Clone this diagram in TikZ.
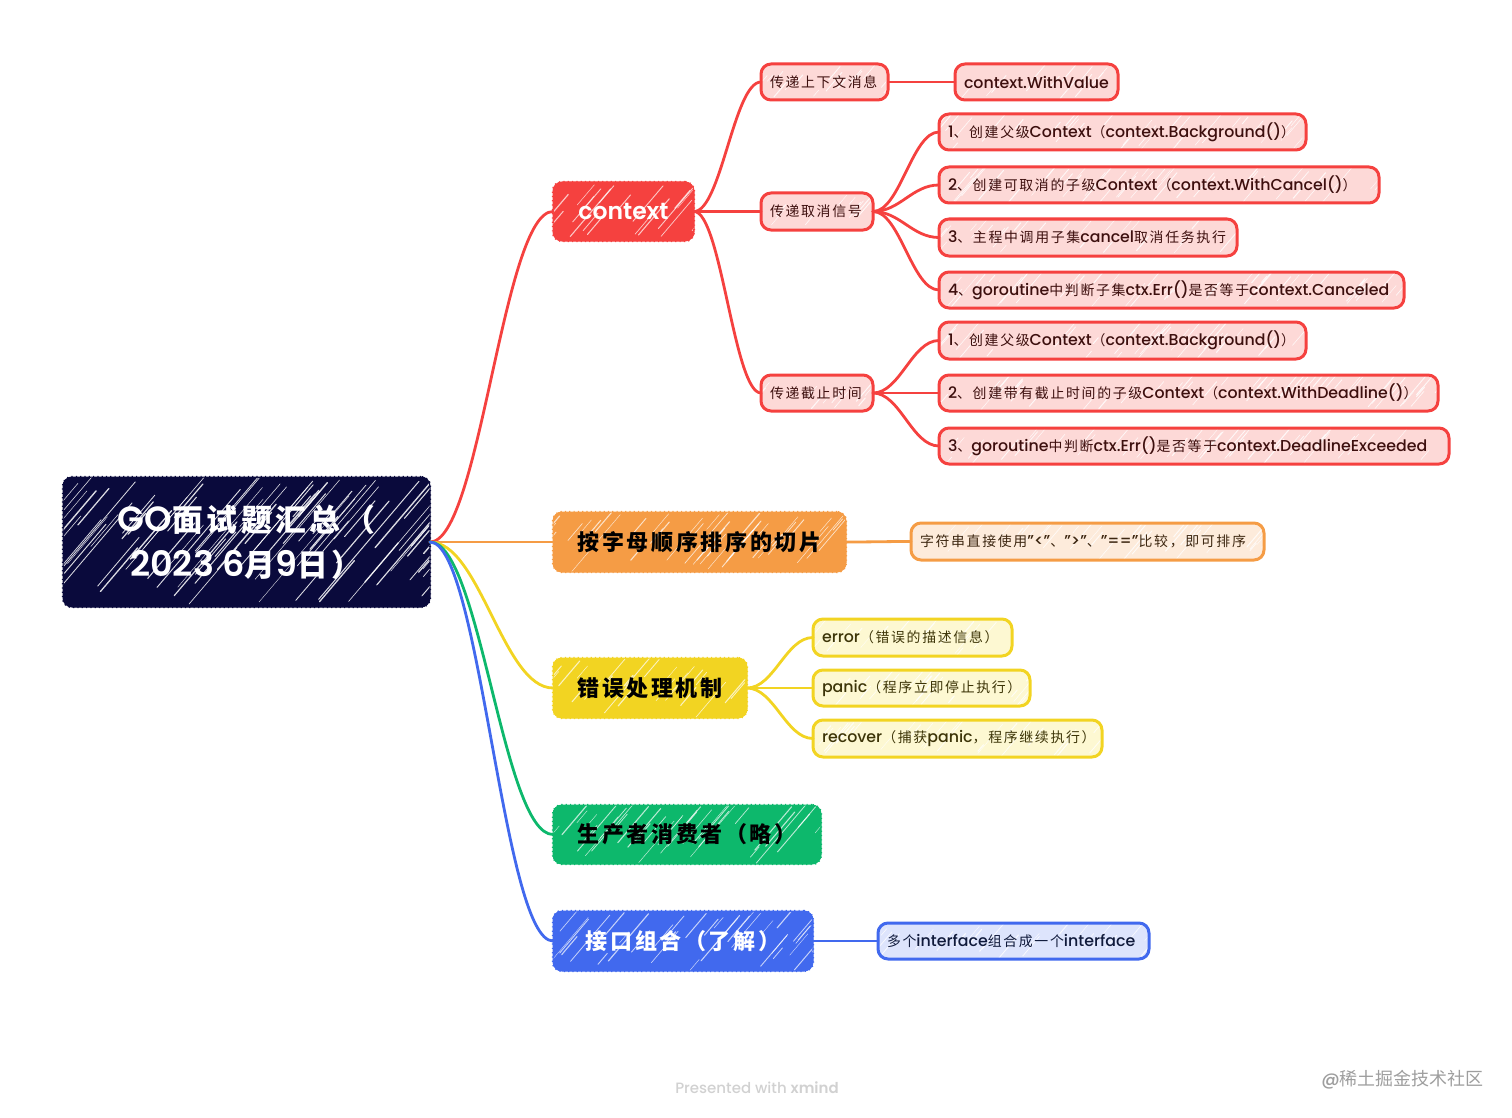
\documentclass[tikz,border=0pt]{standalone}
\usepackage{fontspec}
\setmainfont{Poppins Medium}[BoldFont=Poppins SemiBold]
\newfontfamily\cjk[LetterSpace=12,Scale=0.88]{Noto Sans CJK SC}
\newfontfamily\cjkplain{Noto Sans CJK SC}
\newcommand\C[1]{{\cjk #1}}
\definecolor{rootc}{HTML}{0A0A3C}
\definecolor{redc}{HTML}{F5413F}
\definecolor{orangec}{HTML}{F59C45}
\definecolor{yellowc}{HTML}{F2D422}
\definecolor{greenc}{HTML}{0DB86C}
\definecolor{bluec}{HTML}{4169EE}
\definecolor{redl}{HTML}{FDD9D7}
\definecolor{orangel}{HTML}{FDEBDB}
\definecolor{yellowl}{HTML}{FDF8D2}
\definecolor{bluel}{HTML}{DDE4FC}
\definecolor{redt}{HTML}{3D0F0E}
\definecolor{oranget}{HTML}{3D2711}
\definecolor{yellowt}{HTML}{3D3508}
\definecolor{bluet}{HTML}{101A3B}
\newcommand\hatchlines[3]{%
  \pgfmathsetmacro\hn{int((\bxw+\bxh)/#1)}%
  \foreach \i in {1,...,\hn}{%
    \pgfmathsetmacro\ht{rnd*(\bxw+\bxh*0.85)-\bxh*0.85}%
    \pgfmathsetmacro\ha{rnd*0.7}%
    \pgfmathsetmacro\hb{\ha+0.15+rnd*(1-\ha-0.15)}%
    \pgfmathsetmacro\hw{0.4+rnd*#3}%
    \draw[white,fill=none,line width=\hw pt,opacity=#2,line cap=round]
      ([shift={(\ht+\ha*\bxh*0.85,-\ha*\bxh)}]path picture bounding box.south west)
      -- ++({(\hb-\ha)*\bxh*0.85},{-(\hb-\ha)*\bxh});%
  }%
}
\tikzset{
  x=1pt,y=-1pt,
  sk/.style={inner sep=0pt,outer sep=0pt,rounded corners=#1},
  roughedge/.style={postaction={draw=#1,line width=2.4pt,dash pattern=on 1.2pt off 3.1pt}},
  rootbox/.style={sk=9pt,fill=rootc,draw=rootc,line width=1pt,text=white,align=center,roughedge=rootc,
    font=\fontsize{35}{45}\selectfont\bfseries,path picture={\hatchlines{5.5}{0.85}{1.0}}},
  mainbox/.style={sk=9pt,fill=#1,draw=#1,line width=1pt,roughedge=#1,
    font=\fontsize{25}{28}\selectfont\bfseries,path picture={\hatchlines{8}{0.7}{0.8}}},
  subbox/.style n args={3}{sk=10pt,fill=#2,draw=#1,line width=3pt,text=#3,
    font=\fontsize{15.8}{18}\selectfont,path picture={\hatchlines{11}{0.8}{0.7}}},
  redsub/.style={subbox={redc}{redl}{redt}},
  orangesub/.style={subbox={orangec}{orangel}{oranget}},
  yellowsub/.style={subbox={yellowc}{yellowl}{yellowt}},
  bluesub/.style={subbox={bluec}{bluel}{bluet}},
  link/.style={line width=2.8pt,draw=#1,line cap=round},
  footnote/.style={inner sep=0pt,font=\fontsize{15}{18}\selectfont,text=#1}
}
\newcommand\sketchbox[7]{%
  \pgfmathsetmacro\bxw{#4-#2}\pgfmathsetmacro\bxh{#5-#3}%
  \pgfmathsetmacro\bxx{(#2+#4)/2}\pgfmathsetmacro\bxy{(#3+#5)/2}%
  \pgfmathsetmacro\bxt{\bxw-20}%
  \node[#6,minimum width=\bxw pt-2pt,minimum height=\bxh pt-2pt] (#1) at (\bxx,\bxy) {#7};%
}
\newcommand\subnode[7]{\sketchbox{#1}{#2}{#3}{#4}{#5}{#6}{\makebox[\bxt pt][l]{#7}}}
\newcommand\conn[4]{\draw[link=#1] (#2.east) .. controls +(#4,0) and +(-#4,0) .. (#3.west);}
\begin{document}
\begin{tikzpicture}
\useasboundingbox (0,0) rectangle (1512,1118);
\pgfmathsetseed{4217}
\sketchbox{root}{62}{476}{431}{608}{rootbox}{GO\C{面试题汇总（}\\2023 6\C{月}9\C{日）}}
\sketchbox{ctx}{552}{181}{695}{242}{mainbox=redc,text=white,font=\fontsize{23.5}{30}\selectfont\bfseries}{context}
\sketchbox{slice}{552}{511}{847}{573}{mainbox=orangec,text=black}{\C{按字母顺序排序的切片}}
\sketchbox{err}{552}{657}{748}{719}{mainbox=yellowc,text=black}{\C{错误处理机制}}
\sketchbox{prod}{552}{804}{822}{865}{mainbox=greenc,text=black}{\C{生产者消费者（略）}}
\sketchbox{iface}{552}{910}{814}{972}{mainbox=bluec,text=white}{\C{接口组合（了解）}}

\subnode{pass}{760}{63}{889}{101}{redsub}{\C{传递上下文消息}}
\subnode{val}{954}{63}{1119}{101}{redsub}{context.WithValue}
\subnode{cancel}{760}{192}{874}{231}{redsub}{\C{传递取消信号}}
\subnode{ca}{938}{113}{1307}{151}{redsub}{1\C{、创建父级}Context\C{（}context.Background()\C{）}}
\subnode{cb}{938}{166}{1380}{204}{redsub}{2\C{、创建可取消的子级}Context\C{（}context.WithCancel()\C{）}}
\subnode{cc}{938}{218}{1238}{257}{redsub}{3\C{、主程中调用子集}cancel\C{取消任务执行}}
\subnode{cd}{938}{271}{1405}{309}{redsub}{4\C{、}goroutine\C{中判断子集}ctx.Err()\C{是否等于}context.Canceled}
\subnode{dead}{760}{374}{874}{412}{redsub}{\C{传递截止时间}}
\subnode{da}{938}{321}{1307}{360}{redsub}{1\C{、创建父级}Context\C{（}context.Background()\C{）}}
\subnode{db}{938}{374}{1439}{412}{redsub}{2\C{、创建带有截止时间的子级}Context\C{（}context.WithDeadline()\C{）}}
\subnode{dc}{938}{427}{1450}{465}{redsub}{3\C{、}goroutine\C{中判断}ctx.Err()\C{是否等于}context.DeadlineExceeded}
\subnode{cmp}{910}{522}{1265}{561}{orangesub}{\C{字符串直接使用}"<"\C{、}">"\C{、}"=="\C{比较，即可排序}}
\subnode{ea}{812}{618}{1013}{657}{yellowsub}{error\C{（错误的描述信息）}}
\subnode{eb}{812}{669}{1031}{707}{yellowsub}{panic\C{（程序立即停止执行）}}
\subnode{ec}{812}{719}{1103}{758}{yellowsub}{recover\C{（捕获}panic\C{，程序继续执行）}}
\subnode{multi}{877}{922}{1150}{960}{bluesub}{\C{多个}interface\C{组合成一个}interface}

\conn{redc}{root}{ctx}{50}
\conn{orangec}{root}{slice}{50}
\conn{yellowc}{root}{err}{50}
\conn{greenc}{root}{prod}{50}
\conn{bluec}{root}{iface}{50}
\conn{redc}{ctx}{pass}{27}
\conn{redc}{ctx}{cancel}{27}
\conn{redc}{ctx}{dead}{27}
\conn{redc}{pass}{val}{27}
\conn{redc}{cancel}{ca}{27}
\conn{redc}{cancel}{cb}{27}
\conn{redc}{cancel}{cc}{27}
\conn{redc}{cancel}{cd}{27}
\conn{redc}{dead}{da}{27}
\conn{redc}{dead}{db}{27}
\conn{redc}{dead}{dc}{27}
\conn{orangec}{slice}{cmp}{27}
\conn{yellowc}{err}{ea}{27}
\conn{yellowc}{err}{eb}{27}
\conn{yellowc}{err}{ec}{27}
\conn{bluec}{iface}{multi}{27}

\node[footnote={black!18}] (brand) at (757,1088) {Presented with \textbf{xmind}};
\node[footnote={black!38},anchor=east,font=\fontsize{18}{20}\selectfont] (mark) at (1484,1080) {@{\cjkplain 稀土掘金技术社区}};
\end{tikzpicture}
\end{document}
